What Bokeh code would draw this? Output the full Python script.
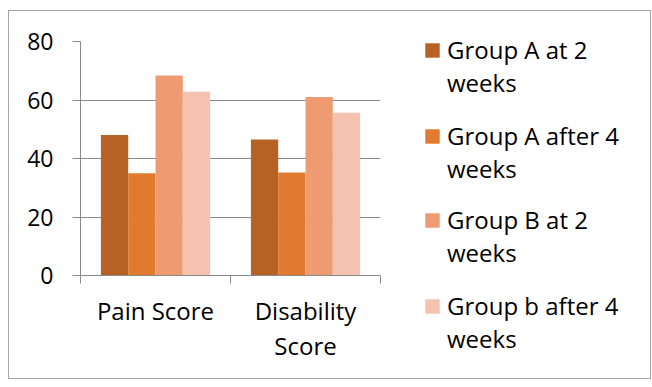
from bokeh.plotting import figure
from bokeh.layouts import row
from bokeh.models import Range1d, FixedTicker, Legend, LegendItem
from bokeh.embed import file_html
from bokeh.resources import INLINE

categories = ["Pain Score", "Disability\nScore"]
series_first_line = ["Group A at 2", "Group A after 4", "Group B at 2", "Group b after 4"]
series_second_line = ["weeks", "weeks", "weeks", "weeks"]
group_a_2wk = [48, 46.5]
group_a_4wk = [35, 35.2]
group_b_2wk = [68.4, 61]
group_b_4wk = [62.8, 55.6]
colors = ["#B86125", "#E07B30", "#EE9B72", "#F5C2AF"]
y_ticks = [0, 20, 40, 60, 80]

FONT = "Open Sans"
AX = "#8a8a8a"

p = figure(frame_width=300, frame_height=234, output_backend="svg", toolbar_location=None,
           x_range=Range1d(0, len(categories)), y_range=Range1d(0, 80),
           min_border_left=71, min_border_right=10, min_border_top=30, min_border_bottom=103)
p.outline_line_color = None

bar_w = 0.182
offsets = [(-1.5 + i) * bar_w for i in range(4)]
all_series = [group_a_2wk, group_a_4wk, group_b_2wk, group_b_4wk]
for vals, col, off in zip(all_series, colors, offsets):
    xs = [k + 0.5 + off for k in range(len(categories))]
    p.vbar(x=xs, top=vals, width=bar_w, color=col, line_color=None)

# x axis
xa = p.xaxis[0]
xa.ticker = FixedTicker(ticks=[k + 0.5 for k in range(len(categories))],
                        minor_ticks=list(range(len(categories) + 1)))
xa.major_label_overrides = {k + 0.5: c for k, c in enumerate(categories)}
xa.major_tick_out = 0
xa.major_tick_in = 0
xa.minor_tick_out = 8
xa.minor_tick_in = 0
xa.minor_tick_line_color = AX
xa.axis_line_color = AX
xa.major_label_text_font = FONT
xa.major_label_text_font_size = "24px"
xa.major_label_text_color = "#000000"
xa.major_label_standoff = 10
xa.major_label_text_line_height = 1.08
p.xgrid.visible = False

ya = p.yaxis[0]
ya.ticker = FixedTicker(ticks=y_ticks)
ya.major_tick_out = 8
ya.major_tick_in = 0
ya.minor_tick_line_color = None
ya.major_tick_line_color = AX
ya.axis_line_color = AX
ya.major_label_text_font = FONT
ya.major_label_text_font_size = "23px"
ya.major_label_text_color = "#000000"
ya.major_label_standoff = 19
p.ygrid.grid_line_color = AX
p.ygrid.ticker = FixedTicker(ticks=y_ticks)

# legend panel (separate figure so entries can be placed freely)
LW, LH = 260, 367
lg = figure(width=LW, height=LH, output_backend="svg", toolbar_location=None,
            x_axis_type=None, y_axis_type=None, min_border=0,
            x_range=Range1d(0, 1), y_range=Range1d(0, 1))
lg.outline_line_color = None
lg.grid.visible = False

unaligned = hasattr(lg, "frame_align")
if unaligned:
    lg.frame_align = False
    p.frame_align = False
    frame_bottom = 11 + LH          # legend frame fills its whole canvas
else:
    frame_bottom = 11 + 30 + 234    # frame aligned with the chart's frame

# legend proxies, placed outside the visible range
blank = lg.vbar(x=[-10], top=[-10], bottom=[-11], width=1, fill_alpha=0, line_alpha=0)

text_centers = [50.5, 136.5, 220.5, 306.5]   # page y of first-line centres
for first, second, col, c in zip(series_first_line, series_second_line, colors, text_centers):
    proxy = lg.vbar(x=[-10], top=[-10], bottom=[-11], width=1, color=col, line_color=None)
    leg = Legend(items=[LegendItem(label=first, renderers=[proxy]),
                        LegendItem(label=second, renderers=[blank])],
                 location=(33, frame_bottom - 48.5 - c), margin=0, padding=0,
                 border_line_color=None, background_fill_alpha=0,
                 glyph_width=18, glyph_height=18, label_standoff=6, spacing=0,
                 label_text_font=FONT, label_text_font_size="24px",
                 label_text_color="#000000", label_text_line_height=1.2)
    lg.add_layout(leg, "center")

layout = row(p, lg)
layout.styles = {"border": "1px solid #a6a6a6"}
layout.margin = (10, 0, 0, 8)

open("out.html", "w").write(file_html(layout, INLINE))
